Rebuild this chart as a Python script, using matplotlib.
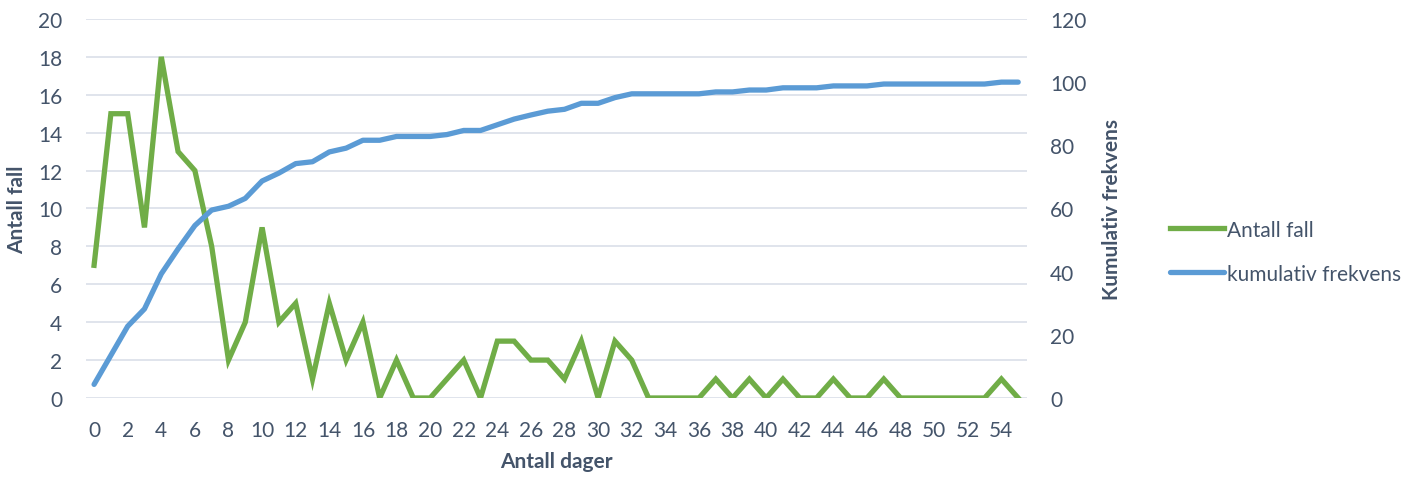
import matplotlib
matplotlib.use("Agg")
import matplotlib.pyplot as plt

# data
days = list(range(0, 56))
antall_fall = [7, 15, 15, 9, 18, 13, 12, 8, 2, 4,
               9, 4, 5, 1, 5, 2, 4, 0, 2, 0,
               0, 1, 2, 0, 3, 3, 2, 2, 1, 3,
               0, 3, 2, 0, 0, 0, 0, 1, 0, 1,
               0, 1, 0, 0, 1, 0, 0, 1, 0, 0,
               0, 0, 0, 0, 1, 0]
kumulativ = [4.3, 13.5, 22.7, 28.2, 39.3, 47.2, 54.6, 59.5, 60.7, 63.2,
             68.7, 71.2, 74.2, 74.8, 77.9, 79.1, 81.6, 81.6, 82.8, 82.8,
             82.8, 83.4, 84.7, 84.7, 86.5, 88.3, 89.6, 90.8, 91.4, 93.3,
             93.3, 95.1, 96.3, 96.3, 96.3, 96.3, 96.3, 96.9, 96.9, 97.5,
             97.5, 98.2, 98.2, 98.2, 98.8, 98.8, 98.8, 99.4, 99.4, 99.4,
             99.4, 99.4, 99.4, 99.4, 100.0, 100.0]
x_ticklabels = [str(d) for d in range(0, 55, 2)]

GREEN = "#70AD47"
BLUE = "#5B9BD5"
TEXT = "#44546A"
GRID = "#DDE2EA"
FS = 15

plt.rcParams['font.family'] = ['Lato', 'DejaVu Sans']
plt.rcParams['font.size'] = FS

fig = plt.figure(figsize=(14.16, 4.81), dpi=100)
ax1 = fig.add_axes([0.0605, 0.1705, 0.6645, 0.788])
ax2 = ax1.twinx()

l1, = ax1.plot(days, antall_fall, color=GREEN, lw=3.8, solid_joinstyle="miter", zorder=3)
l2, = ax2.plot(days, kumulativ, color=BLUE, lw=3.8, solid_capstyle="round", zorder=3)

ax1.set_xlim(-0.5, 55.5)
ax1.set_ylim(0, 20)
ax2.set_ylim(0, 120)
ax1.set_yticks(range(0, 21, 2))
ax2.set_yticks(range(0, 121, 20))
ax1.set_xticks(range(0, 55, 2))
ax1.set_xticklabels(x_ticklabels)

ax1.grid(axis="y", color=GRID, lw=1.3, zorder=0)
ax1.set_axisbelow(True)
for ax in (ax1, ax2):
    for s in ax.spines.values():
        s.set_visible(False)
ax1.tick_params(axis="both", length=0, colors=TEXT, labelsize=FS)
ax1.tick_params(axis="y", pad=17)
ax1.tick_params(axis="x", pad=16)
ax2.tick_params(axis="y", length=0, colors=TEXT, labelsize=FS, pad=17)

ax1.set_ylabel("Antall fall", color=TEXT, fontweight="bold", fontsize=FS)
ax1.yaxis.set_label_coords(-0.062, 0.5)
ax2.set_ylabel("Kumulativ frekvens", color=TEXT, fontweight="bold", fontsize=FS)
ax2.yaxis.set_label_coords(1.080, 0.5)
ax1.set_xlabel("Antall dager", color=TEXT, fontweight="bold", fontsize=FS, labelpad=8)

leg = fig.legend([l1, l2], ["Antall fall", "kumulativ frekvens"],
                 loc="center left", bbox_to_anchor=(0.8128, 0.475),
                 frameon=False, handlelength=2.6, handletextpad=0.15,
                 labelspacing=1.15, fontsize=FS)
for t in leg.get_texts():
    t.set_color(TEXT)

fig.savefig("out.png", dpi=100)
